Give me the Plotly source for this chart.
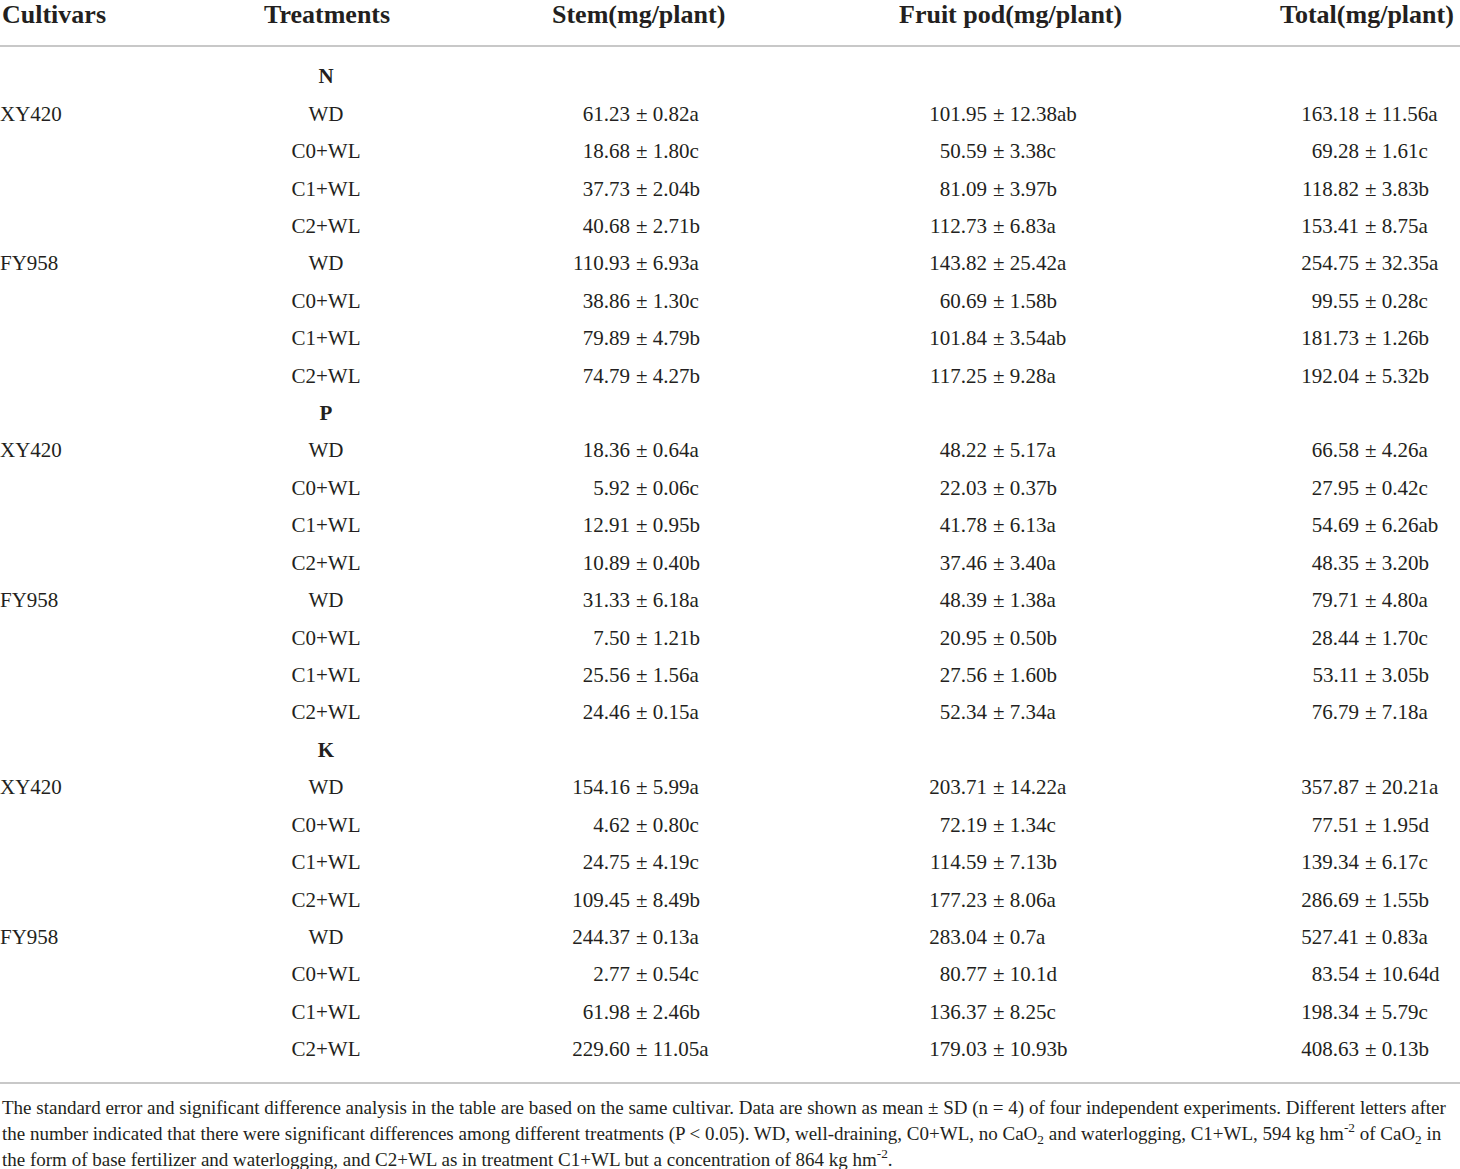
import plotly.graph_objects as go

# table content
elements = ["N", "P", "K"]
cultivars = ["XY420", "FY958"]
treatments = ["WD", "C0+WL", "C1+WL", "C2+WL"]
headers = ["Cultivars", "Treatments", "Stem(mg/plant)", "Fruit pod(mg/plant)", "Total(mg/plant)"]

stem = [
    "61.23 ± 0.82a", "18.68 ± 1.80c", "37.73 ± 2.04b", "40.68 ± 2.71b",
    "110.93 ± 6.93a", "38.86 ± 1.30c", "79.89 ± 4.79b", "74.79 ± 4.27b",
    "18.36 ± 0.64a", "5.92 ± 0.06c", "12.91 ± 0.95b", "10.89 ± 0.40b",
    "31.33 ± 6.18a", "7.50 ± 1.21b", "25.56 ± 1.56a", "24.46 ± 0.15a",
    "154.16 ± 5.99a", "4.62 ± 0.80c", "24.75 ± 4.19c", "109.45 ± 8.49b",
    "244.37 ± 0.13a", "2.77 ± 0.54c", "61.98 ± 2.46b", "229.60 ± 11.05a",
]
fruit_pod = [
    "101.95 ± 12.38ab", "50.59 ± 3.38c", "81.09 ± 3.97b", "112.73 ± 6.83a",
    "143.82 ± 25.42a", "60.69 ± 1.58b", "101.84 ± 3.54ab", "117.25 ± 9.28a",
    "48.22 ± 5.17a", "22.03 ± 0.37b", "41.78 ± 6.13a", "37.46 ± 3.40a",
    "48.39 ± 1.38a", "20.95 ± 0.50b", "27.56 ± 1.60b", "52.34 ± 7.34a",
    "203.71 ± 14.22a", "72.19 ± 1.34c", "114.59 ± 7.13b", "177.23 ± 8.06a",
    "283.04 ± 0.7a", "80.77 ± 10.1d", "136.37 ± 8.25c", "179.03 ± 10.93b",
]
total = [
    "163.18 ± 11.56a", "69.28 ± 1.61c", "118.82 ± 3.83b", "153.41 ± 8.75a",
    "254.75 ± 32.35a", "99.55 ± 0.28c", "181.73 ± 1.26b", "192.04 ± 5.32b",
    "66.58 ± 4.26a", "27.95 ± 0.42c", "54.69 ± 6.26ab", "48.35 ± 3.20b",
    "79.71 ± 4.80a", "28.44 ± 1.70c", "53.11 ± 3.05b", "76.79 ± 7.18a",
    "357.87 ± 20.21a", "77.51 ± 1.95d", "139.34 ± 6.17c", "286.69 ± 1.55b",
    "527.41 ± 0.83a", "83.54 ± 10.64d", "198.34 ± 5.79c", "408.63 ± 0.13b",
]

footnote = [
    "The standard error and significant difference analysis in the table are based on the same cultivar. "
    "Data are shown as mean ± SD (n = 4) of four independent experiments. Different letters after",
    "the number indicated that there were significant differences among different treatments (P &lt; 0.05). "
    "WD, well-draining, C0+WL, no CaO<sub>2</sub> and waterlogging, C1+WL, 594 kg hm<sup>-2</sup> of CaO<sub>2</sub> in",
    "the form of base fertilizer and waterlogging, and C2+WL as in treatment C1+WL but a concentration of 864 kg hm<sup>-2</sup>.",
]

FONT = "Liberation Serif"
INK = "#231f20"
BODY = 21

# build rows: element heading, then 2 cultivars x 4 treatments
row_y, treat_txt, group_rows, cult_rows, cult_txt = [], [], [], [], []
r = 0
for e in elements:
    group_rows.append(r)
    r += 1
    for c in cultivars:
        cult_rows.append(r)
        cult_txt.append(c)
        for t in treatments:
            row_y.append(r)
            treat_txt.append(t)
            r += 1

fig = go.Figure()

fig.add_trace(go.Scatter(x=[0] * len(cult_rows), y=cult_rows, text=cult_txt, mode="text",
                         textposition="middle right", textfont=dict(family=FONT, size=BODY, color=INK)))
fig.add_trace(go.Scatter(x=[326] * len(row_y), y=row_y, text=treat_txt, mode="text",
                         textposition="middle center", textfont=dict(family=FONT, size=BODY, color=INK)))
fig.add_trace(go.Scatter(x=[326] * len(group_rows), y=group_rows, text=["<b>%s</b>" % e for e in elements],
                         mode="text", textposition="middle center",
                         textfont=dict(family=FONT, size=BODY, color=INK)))

# value columns aligned on the ± sign
pm_x = [636, 993, 1365]
for col, px in zip([stem, fruit_pod, total], pm_x):
    means = [s.split(" ± ")[0] for s in col]
    rests = ["± " + s.split(" ± ")[1] for s in col]
    fig.add_trace(go.Scatter(x=[px - 6] * len(col), y=row_y, text=means, mode="text",
                             textposition="middle left", textfont=dict(family=FONT, size=BODY, color=INK)))
    fig.add_trace(go.Scatter(x=[px] * len(col), y=row_y, text=rests, mode="text",
                             textposition="middle right", textfont=dict(family=FONT, size=BODY, color=INK)))

# headers
head_x = [0, 327, 638, 1010, 1367]
head_anchor = ["left", "center", "center", "center", "center"]
for h, hx, ha in zip(headers, head_x, head_anchor):
    fig.add_annotation(x=hx, y=-1.684, text="<b>%s</b>" % h, showarrow=False, xanchor=ha,
                       yanchor="middle", font=dict(family=FONT, size=26, color=INK))

for fy, line in zip([27.53, 28.2, 28.87], footnote):
    fig.add_annotation(x=0, y=fy, text=line, showarrow=False, xanchor="left", yanchor="middle",
                       font=dict(family=FONT, size=19, color=INK))

for ly in [-0.855, 26.86]:
    fig.add_shape(type="line", x0=0, x1=1460, y0=ly, y1=ly, line=dict(color="#c8c8c8", width=2))

fig.update_layout(
    width=1460, height=1169, margin=dict(l=0, r=0, t=0, b=0),
    paper_bgcolor="white", plot_bgcolor="white", showlegend=False, hovermode=False,
    xaxis=dict(range=[0, 1460], visible=False, fixedrange=True),
    yaxis=dict(range=[29.155, -2.084], visible=False, fixedrange=True),
)

fig.write_html("out.html", config={"displayModeBar": False},
               post_script="document.body.style.margin='0';")
